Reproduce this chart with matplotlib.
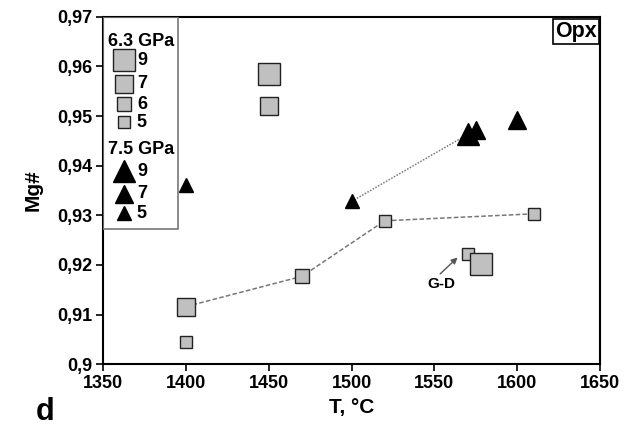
import matplotlib.pyplot as plt
from matplotlib.patches import Rectangle

plt.rcParams['font.family'] = ['Liberation Sans', 'DejaVu Sans']
plt.rcParams['font.weight'] = 'bold'

# 6.3 GPa (squares): T, Mg#, run duration class
sq_T = [1450, 1450, 1400, 1400, 1470, 1520, 1610, 1570, 1578]
sq_mg = [0.9585, 0.952, 0.9116, 0.9045, 0.9177, 0.9289, 0.9303, 0.9222, 0.9202]
sq_cls = [9, 7, 7, 5, 6, 5, 5, 5, 9]

# connected square series
sq_line_T = [1400, 1470, 1520, 1610]
sq_line_mg = [0.9116, 0.9177, 0.9289, 0.9303]

# 7.5 GPa (triangles)
tri_T = [1400, 1500, 1570, 1575, 1600]
tri_mg = [0.9362, 0.9328, 0.9463, 0.9473, 0.9492]
tri_cls = [5, 5, 9, 7, 7]

tri_line_T = [1500, 1570]
tri_line_mg = [0.9328, 0.9463]

yticks = [0.9, 0.91, 0.92, 0.93, 0.94, 0.95, 0.96, 0.97]
ytick_labels = ['0,9', '0,91', '0,92', '0,93', '0,94', '0,95', '0,96', '0,97']
xticks = [1350, 1400, 1450, 1500, 1550, 1600, 1650]

sq_size = {9: 15.5, 7: 13, 6: 10.5, 5: 8.5}
tri_size = {9: 16, 7: 13, 5: 9.5}

fig = plt.figure(figsize=(6.25, 4.33), dpi=100)
ax = fig.add_axes([0.165, 0.159, 0.795, 0.802])

ax.plot(sq_line_T, sq_line_mg, linestyle=(0, (3, 1.5)), color='#777777', lw=1.1, zorder=1)
ax.plot(tri_line_T, tri_line_mg, linestyle=(0, (1, 1)), color='#777777', lw=1.1, zorder=1)

for t, m, c in zip(sq_T, sq_mg, sq_cls):
    ax.plot(t, m, 's', ms=sq_size[c], mfc='#c0c0c0', mec='#222222', mew=1.0, zorder=3)
for t, m, c in zip(tri_T, tri_mg, tri_cls):
    ax.plot(t, m, '^', ms=tri_size[c], color='black', zorder=3)

ax.text(1554.5, 0.9162, 'G-D', ha='center', va='center', fontsize=11)
ax.annotate('', xy=(1564, 0.9215), xytext=(1553.5, 0.9182),
            arrowprops=dict(arrowstyle='-|>', color='#555555', lw=1, shrinkA=0, shrinkB=0,
                            mutation_scale=9))

ax.set_xlim(1350, 1650)
ax.set_ylim(0.9, 0.97)
ax.set_xticks(xticks)
ax.set_xticklabels([str(x) for x in xticks])
ax.set_yticks(yticks)
ax.set_yticklabels(ytick_labels)
ax.tick_params(direction='out', length=5, width=1.2, labelsize=13, pad=3)
for lab in ax.get_xticklabels() + ax.get_yticklabels():
    lab.set_fontweight('bold')
for s in ax.spines.values():
    s.set_linewidth(1.5)

ax.set_xlabel('T, °C', fontsize=15, fontweight='bold', labelpad=4)
ax.set_ylabel('Mg#', fontsize=15, fontweight='bold', labelpad=10)

# legend box
tr = ax.transAxes
ax.add_patch(Rectangle((0.0, 0.389), 0.151, 0.611, transform=tr, fill=False,
                       ec='#777777', lw=1.2, zorder=4))
ax.text(0.010, 0.929, '6.3 GPa', transform=tr, fontsize=13, va='center', ha='left')
for c, yy in zip([9, 7, 6, 5], [0.875, 0.808, 0.748, 0.697]):
    ax.plot(0.042, yy, 's', ms=sq_size[c], mfc='#c0c0c0', mec='#222222', mew=1.0,
            transform=tr, clip_on=False, zorder=5)
    ax.text(0.068, yy, str(c), transform=tr, fontsize=13, va='center', ha='left')
ax.text(0.010, 0.617, '7.5 GPa', transform=tr, fontsize=13, va='center', ha='left')
for c, yy in zip([9, 7, 5], [0.556, 0.491, 0.435]):
    ax.plot(0.042, yy, '^', ms=tri_size[c], color='black', transform=tr,
            clip_on=False, zorder=5)
    ax.text(0.068, yy, str(c), transform=tr, fontsize=13, va='center', ha='left')

ax.text(0.993, 0.988, 'Opx', transform=tr, fontsize=15.5, ha='right', va='top',
        bbox=dict(boxstyle='square,pad=0.1', fc='white', ec='black', lw=1.2))

fig.text(0.072, 0.03, 'd', fontsize=22, fontweight='bold', ha='center', va='baseline')

fig.savefig('out.png', dpi=100)
